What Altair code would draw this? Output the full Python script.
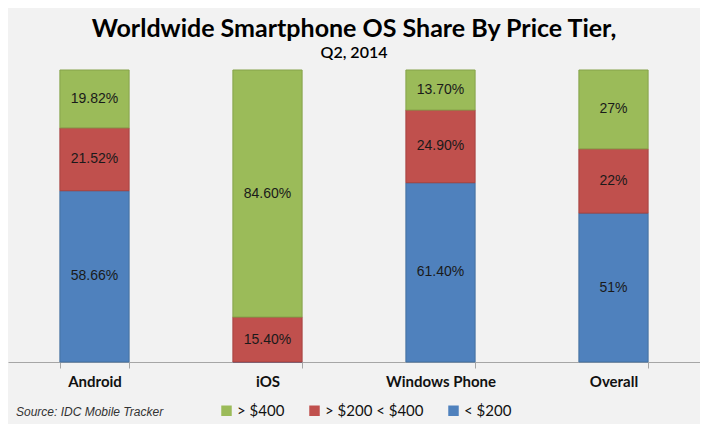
import altair as alt
import pandas as pd

os_names = ["Android", "iOS", "Windows Phone", "Overall"]
tiers = ["> $400", "> $200 < $400", "< $200"]
under200 = [58.66, 0.0, 61.40, 51]
mid200_400 = [21.52, 15.40, 24.90, 22]
over400 = [19.82, 84.60, 13.70, 27]
labels_under200 = ["58.66%", "", "61.40%", "51%"]
labels_mid = ["21.52%", "15.40%", "24.90%", "22%"]
labels_over = ["19.82%", "84.60%", "13.70%", "27%"]

rows = []
for i, o in enumerate(os_names):
    rows.append({"os": o, "tier": "< $200", "value": under200[i], "label": labels_under200[i], "rank": 0})
    rows.append({"os": o, "tier": "> $200 < $400", "value": mid200_400[i], "label": labels_mid[i], "rank": 1})
    rows.append({"os": o, "tier": "> $400", "value": over400[i], "label": labels_over[i], "rank": 2})
df = pd.DataFrame(rows)

colors = ["#9bbb59", "#c0504d", "#4f81bd"]
strokes = ["#86a34a", "#a64340", "#44709f"]

base = alt.Chart(df).transform_stack(
    stack="value", as_=["y0", "y1"], groupby=["os"], sort=[{"field": "rank", "order": "ascending"}]
).transform_calculate(mid="(datum.y0 + datum.y1) / 2")

xenc = alt.X(
    "os:N",
    sort=os_names,
    title=None,
    scale=alt.Scale(paddingInner=0.6, paddingOuter=0.3),
    axis=alt.Axis(
        labelAngle=0,
        labelFont="Lato",
        labelFontWeight="bold",
        labelFontSize=15,
        labelColor="#111111",
        labelPadding=6,
        tickBand="extent",
        tickSize=6,
        tickColor="#a6a6a6",
        domainColor="#a6a6a6",
        grid=False,
    ),
)

bars = base.mark_bar(strokeWidth=1).encode(
    x=xenc,
    y=alt.Y("y0:Q", scale=alt.Scale(domain=[0, 100]), axis=None),
    y2="y1:Q",
    color=alt.Color(
        "tier:N",
        scale=alt.Scale(domain=tiers, range=colors),
        legend=alt.Legend(
            title=None,
            orient="none",
            legendX=211,
            legendY=333,
            direction="horizontal",
            symbolType="square",
            symbolSize=110,
            symbolStrokeWidth=0,
            labelFont="Lato",
            labelFontSize=15,
            labelColor="#111111",
            columnPadding=22,
            labelOffset=3,
        ),
    ),
    stroke=alt.Stroke("tier:N", scale=alt.Scale(domain=tiers, range=strokes), legend=None),
)

texts = base.transform_filter("datum.value > 0").mark_text(
    font="Liberation Sans", fontSize=14, color="#1a1a1a"
).encode(
    x=alt.X("os:N", sort=os_names),
    y=alt.Y("mid:Q", scale=alt.Scale(domain=[0, 100])),
    text="label:N",
)

source = alt.Chart(pd.DataFrame({"t": ["Source: IDC Mobile Tracker"]})).mark_text(
    align="left", baseline="middle", font="Liberation Sans", fontStyle="italic",
    fontSize=12, color="#333333"
).encode(x=alt.value(8), y=alt.value(342), text="t:N")

chart = alt.layer(bars, texts, source).properties(
    width=692,
    height=292,
    autosize=alt.AutoSizeParams(type="none"),
    padding={"left": 0, "right": 0, "top": 62, "bottom": 62},
    background="#f2f2f2",
    title=alt.TitleParams(
        text="Worldwide Smartphone OS Share By Price Tier,",
        subtitle="Q2, 2014",
        font="Lato",
        fontSize=25,
        fontWeight="bold",
        color="#000000",
        subtitleFont="Lato",
        subtitleFontSize=16,
        subtitleFontWeight=600,
        subtitleColor="#000000",
        subtitlePadding=3,
        anchor="middle",
        offset=9,
    ),
).configure_view(stroke=None)

chart.save("out.html", embed_options={"renderer": "svg", "actions": False})
